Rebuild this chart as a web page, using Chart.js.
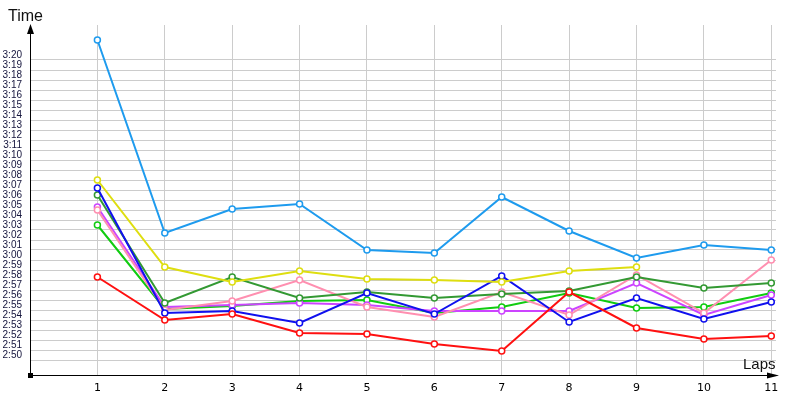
<!DOCTYPE html>
<html>
<head>
<meta charset="utf-8">
<script src="https://cdn.jsdelivr.net/npm/chart.js@4"></script>
<style>
  html, body { margin: 0; padding: 0; background: #fff; }
  #wrap { width: 800px; height: 400px; }
</style>
</head>
<body>
<div id="wrap"><canvas id="laps"></canvas></div>
<script>
// lap numbers
const laps = [1, 2, 3, 4, 5, 6, 7, 8, 9, 10, 11];

// lap times in seconds (3:00 = 180)
const lightBlue = [202.0, 182.7, 185.1, 185.6, 181.0, 180.7, 186.3, 182.9, 180.2, 181.5, 181.0];
const yellow    = [188.0, 179.3, 177.8, 178.9, 178.1, 178.0, 177.8, 178.9, 179.3, null, null];
const blue      = [187.2, 174.7, 174.9, 173.7, 176.7, 174.6, 178.4, 173.8, 176.2, 174.1, 175.8];
const darkGreen = [186.5, 175.7, 178.3, 176.2, 176.8, 176.2, 176.6, 176.9, 178.3, 177.2, 177.7];
const violet    = [185.3, 175.3, 175.5, 175.7, 175.5, 174.9, 174.9, 174.9, 177.7, 174.5, 176.5];
const pink      = [185.0, 175.0, 175.9, 178.0, 175.3, 174.3, 176.8, 174.5, 178.5, 174.7, 180.0];
const green     = [183.5, 175.1, 175.4, 175.9, 176.0, 174.7, 175.3, 176.7, 175.2, 175.3, 176.7];
const red       = [178.3, 174.0, 174.6, 172.7, 172.6, 171.6, 170.9, 176.8, 173.2, 172.1, 172.4];

// y tick values: 2:50 .. 3:20, every second
const yTicks = [];
for (let s = 170; s <= 200; s++) yTicks.push(s);

function fmt(s) {
  const m = Math.floor(s / 60);
  const r = Math.round(s - m * 60);
  return m + ':' + (r < 10 ? '0' : '') + r;
}

function series(label, vals, color) {
  return {
    label: label,
    data: laps.map((l, i) => ({ x: l, y: vals[i] })),
    borderColor: color,
    backgroundColor: color,
    borderWidth: 2,
    pointRadius: 3,
    pointBorderWidth: 1.5,
    pointBackgroundColor: '#ffffff',
    pointBorderColor: color,
    tension: 0,
    spanGaps: false
  };
}

// axes with arrows, origin square, titles
const axesPlugin = {
  id: 'axes',
  afterDraw(chart) {
    const c = chart.ctx;
    const x0 = 30.5, y0 = 375.5;
    c.save();
    c.strokeStyle = '#000';
    c.fillStyle = '#000';
    c.lineWidth = 1;
    c.beginPath();
    c.moveTo(x0, y0);
    c.lineTo(x0, 30);
    c.moveTo(x0, y0);
    c.lineTo(772, y0);
    c.stroke();
    // y arrow
    c.beginPath();
    c.moveTo(x0, 24);
    c.lineTo(x0 - 3.5, 34);
    c.lineTo(x0 + 3.5, 34);
    c.closePath();
    c.fill();
    // x arrow
    c.beginPath();
    c.moveTo(779, y0);
    c.lineTo(767, y0 - 3);
    c.lineTo(767, y0 + 3);
    c.closePath();
    c.fill();
    // origin square
    c.fillRect(28, 373, 5, 5);
    // titles
    c.font = '16px "Liberation Sans", Arial, sans-serif';
    c.textBaseline = 'alphabetic';
    c.textAlign = 'left';
    c.fillStyle = '#111';
    c.fillText('Time', 8, 21);
    c.font = '15px "Liberation Sans", Arial, sans-serif';
    c.fillText('Laps', 743, 369);
    c.restore();
  }
};

const ctx = document.getElementById('laps').getContext('2d');
const chart = new Chart(ctx, {
  type: 'line',
  data: {
    datasets: [
      series('A', lightBlue, '#1e9bee'),
      series('B', yellow, '#dede10'),
      series('C', red, '#ff1010'),
      series('D', blue, '#1010ee'),
      series('E', darkGreen, '#339933'),
      series('F', pink, '#ff8fb0'),
      series('G', violet, '#cc44ff'),
      series('H', green, '#10cc10')
    ]
  },
  options: {
    responsive: true,
    maintainAspectRatio: false,
    animation: false,
    layout: { padding: { top: 25, right: 24, left: 0, bottom: 0 } },
    plugins: {
      legend: { display: false },
      tooltip: { enabled: false }
    },
    scales: {
      x: {
        type: 'linear',
        min: 0,
        max: 11.07,
        afterBuildTicks(scale) { scale.ticks = laps.map(v => ({ value: v })); },
        afterFit(scale) { scale.height = 25; },
        grid: { color: '#cccccc', lineWidth: 1, drawTicks: false },
        border: { display: false },
        ticks: {
          autoSkip: false,
          padding: 7,
          color: '#000',
          font: { family: '"DejaVu Sans", sans-serif', size: 11 },
          maxRotation: 0,
          callback: v => String(v)
        }
      },
      y: {
        min: 168.5,
        max: 203.5,
        afterBuildTicks(scale) { scale.ticks = yTicks.map(v => ({ value: v })); },
        afterFit(scale) { scale.width = 30; },
        grid: { color: '#cccccc', lineWidth: 1, drawTicks: false },
        border: { display: false },
        ticks: {
          autoSkip: false,
          padding: 8,
          labelOffset: -5,
          color: '#14143c',
          font: { family: '"Liberation Sans", Arial, sans-serif', size: 10 },
          callback: v => fmt(v)
        }
      }
    }
  },
  plugins: [axesPlugin]
});

chart.update();
</script>
</body>
</html>
